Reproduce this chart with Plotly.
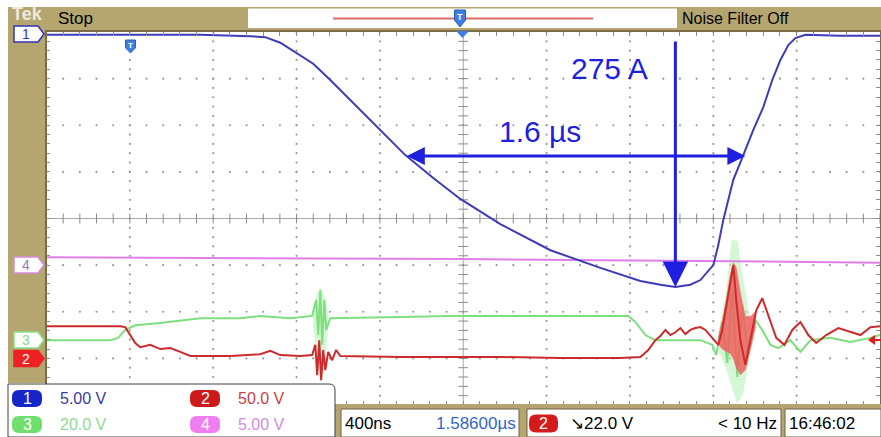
import numpy as np
import plotly.graph_objects as go

W, H = 881, 437
# graticule position in the screenshot (pixels)
GX0, GX1, GY0, GY1 = 46.5, 880.0, 32.0, 405.0

# ---------------- data (time in microseconds, amplitude in divisions) -------------
time_per_div_us = 0.4
t_range = [-2.0, 2.0]
v_range = [-4.0, 4.0]

# CH1 (blue) - current probe
ch1_t = [-2.0, -1.262, -1.022, -0.950, -0.878, -0.797, -0.720, -0.638, -0.542, -0.446,
         -0.350, -0.278, -0.144, -0.014, 0.178, 0.418, 0.658, 0.850, 0.946, 1.018,
         1.090, 1.138, 1.200, 1.224, 1.248, 1.296, 1.344, 1.392, 1.440, 1.483,
         1.522, 1.560, 1.594, 1.642, 1.810, 2.0]
ch1_v = [3.94, 3.94, 3.91, 3.89, 3.77, 3.53, 3.32, 2.97, 2.54, 2.11,
         1.66, 1.36, 0.87, 0.42, -0.12, -0.68, -1.06, -1.34, -1.42, -1.47,
         -1.42, -1.32, -1.00, -0.57, -0.03, 0.83, 1.36, 1.90, 2.39, 2.97,
         3.40, 3.72, 3.87, 3.94, 3.92, 3.92]

# CH4 (magenta)
ch4_t = [-2.0, -0.014, 1.138, 2.0]
ch4_v = [-0.83, -0.87, -0.91, -0.95]

# CH3 (green)
ch3_t = [-2.0, -1.694, -1.656, -1.622, -1.574, -1.454, -1.262, -1.070, -0.974, -0.830,
         -0.725, -0.706, -0.696, -0.686, -0.677, -0.667, -0.658, -0.638, -0.302, -0.062,
         0.178, 0.466, 0.792, 0.826, 0.874, 0.922, 1.138, 1.195, 1.214, 1.243,
         1.267, 1.291, 1.315, 1.339, 1.368, 1.402, 1.435, 1.474, 1.512, 1.570,
         1.618, 1.666, 1.762, 1.858, 1.954, 2.0]
ch3_v = [-2.61, -2.61, -2.56, -2.39, -2.29, -2.24, -2.14, -2.14, -2.09, -2.14,
         -2.09, -1.75, -2.50, -1.54, -2.71, -1.75, -2.39, -2.14, -2.11, -2.09,
         -2.09, -2.09, -2.09, -2.22, -2.50, -2.61, -2.61, -2.71, -2.93, -2.20,
         -3.10, -1.50, -3.40, -1.90, -2.90, -2.18, -2.39, -2.71, -2.78, -2.61,
         -2.86, -2.61, -2.56, -2.65, -2.56, -2.50]

# CH2 (red)
ch2_t = [-2.0, -1.646, -1.622, -1.598, -1.574, -1.550, -1.502, -1.454, -1.406, -1.358,
         -1.310, -1.262, -1.118, -0.974, -0.926, -0.878, -0.782, -0.725, -0.710, -0.701,
         -0.691, -0.682, -0.672, -0.662, -0.648, -0.629, -0.610, -0.590, -0.302, 0.178,
         0.466, 0.754, 0.850, 0.888, 0.922, 0.946, 0.970, 0.994, 1.018, 1.042,
         1.066, 1.090, 1.114, 1.138, 1.162, 1.195, 1.224, 1.243, 1.262, 1.282,
         1.296, 1.310, 1.330, 1.354, 1.378, 1.406, 1.435, 1.464, 1.502, 1.541,
         1.579, 1.618, 1.656, 1.694, 1.742, 1.800, 1.858, 1.906, 1.954, 2.0]
ch2_v = [-2.31, -2.31, -2.33, -2.50, -2.67, -2.76, -2.71, -2.80, -2.78, -2.86,
         -2.95, -2.95, -2.95, -2.91, -2.84, -2.93, -2.95, -2.93, -2.71, -3.36,
         -2.61, -3.47, -2.82, -3.25, -2.86, -3.04, -2.82, -2.95, -2.97, -2.97,
         -2.99, -2.99, -2.97, -2.82, -2.61, -2.52, -2.39, -2.50, -2.44, -2.35,
         -2.48, -2.39, -2.35, -2.33, -2.39, -2.56, -2.71, -2.39, -1.86, -1.32,
         -1.00, -1.75, -2.61, -3.14, -2.61, -1.97, -1.71, -2.07, -2.56, -2.71,
         -2.39, -2.22, -2.50, -2.67, -2.50, -2.35, -2.44, -2.50, -2.33, -2.31]

# persistence (intensity graded) envelopes of the ringing bursts
red_burst_t = [1.224, 1.243, 1.262, 1.282, 1.296, 1.310, 1.330, 1.354, 1.378, 1.402,
               1.402, 1.378, 1.354, 1.330, 1.310, 1.296, 1.282, 1.262, 1.243, 1.224]
red_burst_v = [-2.55, -2.2, -1.75, -1.2, -0.95, -1.05, -1.6, -2.1, -2.1, -2.0,
               -2.35, -2.8, -3.25, -3.35, -3.2, -3.0, -2.9, -2.85, -2.8, -2.7]
green_burst_t = [1.224, 1.262, 1.291, 1.315, 1.339, 1.368, 1.392,
                 1.392, 1.368, 1.339, 1.315, 1.291, 1.262, 1.224]
green_burst_v = [-2.5, -1.6, -0.45, -0.5, -1.2, -2.0, -2.3,
                 -2.6, -3.1, -3.8, -3.95, -3.6, -3.2, -2.8]
green_burst2_t = [-0.720, -0.700, -0.685, -0.665, -0.650, -0.650, -0.665, -0.685, -0.700, -0.720]
green_burst2_v = [-2.1, -1.6, -1.5, -1.7, -2.0, -2.3, -3.2, -3.5, -3.0, -2.2]

# measurement annotations
pulse_start_t, pulse_end_t, pulse_level_v = -0.278, 1.354, 1.34
peak_t, peak_top_v, peak_v = 1.018, 3.83, -1.47
peak_label = "275 A"
width_label = "1.6 µs"

# readouts
scale_labels = [("1", "5.00 V"), ("2", "50.0 V"), ("3", "20.0 V"), ("4", "5.00 V")]
timebase_label = "400ns"
position_label = "1.58600µs"
trigger_label = "↘22.0 V"
freq_label = "< 10 Hz"
clock_label = "16:46:02"

# ---------------- styling ----------------
OLIVE = "#b5a66f"
BLUE = "#3c3cb8"
ANN = "#1f1fe0"
PINK = "#e07ee8"
GREEN = "#7ddf7d"
RED = "#cc2b2b"
FONT = "Liberation Sans, Arial, sans-serif"
FS = 16


def px(x):
    return x / W


def py(y):
    return 1 - y / H


fig = go.Figure()

# graticule dots
div_t = [d * time_per_div_us for d in range(-4, 5) if d != 0]
dot_v = np.arange(-4, 4.001, 0.2)
gx, gy = [], []
for t in div_t:
    gx += [t] * len(dot_v)
    gy += list(dot_v)
dot_t = np.arange(-2, 2.0001, time_per_div_us / 5)
for v in [-3, -2, -1, 1, 2, 3]:
    gx += list(dot_t)
    gy += [v] * len(dot_t)
fig.add_trace(go.Scatter(x=gx, y=gy, mode="markers", hoverinfo="skip",
                         marker=dict(size=2.2, color="#9a9a9a")))
# center axes ticks
fig.add_trace(go.Scatter(x=list(dot_t), y=[0] * len(dot_t), mode="markers", hoverinfo="skip",
                         marker=dict(symbol="line-ns", size=7, line=dict(width=1, color="#8a8a8a"))))
fig.add_trace(go.Scatter(x=[0] * len(dot_v), y=list(dot_v), mode="markers", hoverinfo="skip",
                         marker=dict(symbol="line-ew", size=7, line=dict(width=1, color="#8a8a8a"))))

# bursts
for bt, bv in [(green_burst_t, green_burst_v), (green_burst2_t, green_burst2_v)]:
    fig.add_trace(go.Scatter(x=bt, y=bv, fill="toself", mode="lines",
                             line=dict(width=0.5, color="#c4f2c4"), fillcolor="rgba(180,240,180,0.55)",
                             hoverinfo="skip"))

fig.add_trace(go.Scatter(x=ch4_t, y=ch4_v, mode="lines", line=dict(color=PINK, width=2)))
fig.add_trace(go.Scatter(x=ch3_t, y=ch3_v, mode="lines", line=dict(color=GREEN, width=2)))
fig.add_trace(go.Scatter(x=red_burst_t, y=red_burst_v, fill="toself", mode="lines",
                         line=dict(width=0.5, color="#f06a6a"), fillcolor="rgba(240,95,95,0.85)",
                         hoverinfo="skip"))
fig.add_trace(go.Scatter(x=ch2_t, y=ch2_v, mode="lines", line=dict(color=RED, width=2)))
fig.add_trace(go.Scatter(x=ch1_t, y=ch1_v, mode="lines", line=dict(color=BLUE, width=2)))

shapes = []
ann = []


def text(x, y, s, size=FS, color="black", xanchor="left", family=FONT):
    ann.append(dict(x=px(x), y=py(y), xref="paper", yref="paper", text=s, showarrow=False,
                    xanchor=xanchor, yanchor="middle", font=dict(family=family, size=size, color=color)))


# center cross lines
shapes.append(dict(type="line", xref="x", yref="y", x0=t_range[0], x1=t_range[1], y0=0, y1=0,
                   line=dict(color="#a8a8a8", width=1), layer="below"))
shapes.append(dict(type="line", xref="x", yref="y", x0=0, x1=0, y0=v_range[0], y1=v_range[1],
                   line=dict(color="#a8a8a8", width=1), layer="below"))

# measurement arrows
ann.append(dict(x=peak_t, y=peak_v, ax=peak_t, ay=peak_top_v, xref="x", yref="y", axref="x", ayref="y",
                text="", showarrow=True, arrowhead=2, arrowsize=1.7, arrowwidth=3, arrowcolor=ANN))
ann.append(dict(x=pulse_end_t, y=pulse_level_v, ax=pulse_start_t, ay=pulse_level_v, xref="x", yref="y",
                axref="x", ayref="y", text="", showarrow=True, arrowhead=2, startarrowhead=2,
                arrowside="end+start", arrowsize=1.2, startarrowsize=1.2, arrowwidth=3, arrowcolor=ANN))
ann.append(dict(x=0.70, y=3.22, xref="x", yref="y", text=peak_label, showarrow=False,
                xanchor="center", yanchor="middle",
                font=dict(family="Liberation Sans, Arial, sans-serif", size=30, color=ANN)))
ann.append(dict(x=0.37, y=1.86, xref="x", yref="y", text=width_label, showarrow=False,
                xanchor="center", yanchor="middle",
                font=dict(family="Liberation Sans, Arial, sans-serif", size=30, color=ANN)))

# ---- frame: olive bars
shapes.append(dict(type="rect", xref="paper", yref="paper", x0=px(8), x1=px(45.5), y0=py(383), y1=py(7),
                   fillcolor=OLIVE, line=dict(width=0), layer="below"))
shapes.append(dict(type="rect", xref="paper", yref="paper", x0=px(8), x1=px(881), y0=py(31), y1=py(7),
                   fillcolor=OLIVE, line=dict(width=0), layer="below"))
# top readout box
shapes.append(dict(type="rect", xref="paper", yref="paper", x0=px(248), x1=px(677), y0=py(28), y1=py(8.5),
                   fillcolor="white", line=dict(width=0)))
shapes.append(dict(type="line", xref="paper", yref="paper", x0=px(333), x1=px(593), y0=py(18.5), y1=py(18.5),
                   line=dict(color="#e06a6a", width=2)))


def shield(cx, top, w=11, h=15, color="#3d7fe0"):
    l, r = cx - w / 2, cx + w / 2
    b = top + h
    return dict(type="path", xref="paper", yref="paper",
                path=f"M {px(l)},{py(top)} L {px(r)},{py(top)} L {px(r)},{py(top + h * 0.6)} "
                     f"L {px(cx)},{py(b)} L {px(l)},{py(top + h * 0.6)} Z",
                fillcolor=color, line=dict(color="#2a5fb8", width=1))


shapes.append(shield(460, 10, 11, 17))
text(460, 16.5, "<b>T</b>", size=9, color="white", xanchor="center")
shapes.append(shield(130.5, 40, 10, 13))
text(130.5, 45, "<b>T</b>", size=8, color="white", xanchor="center")
# trigger position marker on top border
shapes.append(dict(type="path", xref="paper", yref="paper",
                   path=f"M {px(456)},{py(31)} L {px(469)},{py(31)} L {px(462.5)},{py(38)} Z",
                   fillcolor="#3d7fe0", line=dict(width=0)))

text(10, 14, "<b>Tek</b>", size=18, color="#efe8dc")
text(56, 18.5, "Stop", size=FS + 1)
text(680, 18.5, "Noise Filter Off", size=FS)


# channel ground markers (left side)
def badge(y, label, fill, edge, txt):
    top, bot = y - 8, y + 8
    l, r = 14, 44
    shapes.append(dict(type="path", xref="paper", yref="paper",
                       path=f"M {px(l)},{py(top)} L {px(r - 6)},{py(top)} L {px(r)},{py(y)} "
                            f"L {px(r - 6)},{py(bot)} L {px(l)},{py(bot)} Z",
                       fillcolor=fill, line=dict(color=edge, width=1.5)))
    text(l + 12, y, label, size=14, color=txt, xanchor="center")


badge(34, "1", "white", "#3434b0", "#3434b0")
badge(265, "4", "white", "#d68ae0", "#9a78c0")
badge(340, "3", "white", "#88e088", "#88e088")
badge(358.5, "2", "#ee2222", "#ee2222", "white")
# trigger level marker on right
shapes.append(dict(type="path", xref="paper", yref="paper",
                   path=f"M {px(868)},{py(340)} L {px(875)},{py(335)} L {px(875)},{py(345)} Z",
                   fillcolor="#e02020", line=dict(width=0)))
shapes.append(dict(type="line", xref="paper", yref="paper", x0=px(874), x1=px(881), y0=py(340), y1=py(340),
                   line=dict(color="#e02020", width=2)))

# ---- bottom readouts
shapes.append(dict(type="rect", xref="paper", yref="paper", x0=px(335), x1=px(881), y0=py(437), y1=py(404),
                   fillcolor=OLIVE, line=dict(width=0)))
for a, b in [(341, 519), (527, 781), (785, 881)]:
    shapes.append(dict(type="rect", xref="paper", yref="paper", x0=px(a), x1=px(b), y0=py(437), y1=py(409),
                       fillcolor="white", line=dict(color="#6d6247", width=1)))


def rrect(l, t, r, b, rad):
    return (f"M {px(l + rad)},{py(t)} L {px(r - rad)},{py(t)} Q {px(r)},{py(t)} {px(r)},{py(t + rad)} "
            f"L {px(r)},{py(b - rad)} Q {px(r)},{py(b)} {px(r - rad)},{py(b)} "
            f"L {px(l + rad)},{py(b)} Q {px(l)},{py(b)} {px(l)},{py(b - rad)} "
            f"L {px(l)},{py(t + rad)} Q {px(l)},{py(t)} {px(l + rad)},{py(t)} Z")


# legend / scale box
shapes.append(dict(type="path", xref="paper", yref="paper",
                   path=(f"M {px(8)},{py(437)} L {px(8)},{py(384)} L {px(329)},{py(384)} "
                         f"Q {px(335)},{py(384)} {px(335)},{py(390)} L {px(335)},{py(437)} Z"),
                   fillcolor="white", line=dict(color="#404040", width=1)))
leg_pos = [(12, 398.5), (190, 398.5), (12, 424.5), (190, 424.5)]
leg_fill = ["#1626c8", "#cc1a1a", "#70df70", "#f07ef0"]
leg_txt = ["#3a3a9c", "#c84040", "#92d892", "#d48ae4"]
for (lab, val), (x0, yc), fc, tc in zip(scale_labels, leg_pos, leg_fill, leg_txt):
    shapes.append(dict(type="path", xref="paper", yref="paper", path=rrect(x0, yc - 8.5, x0 + 30, yc + 8.5, 7),
                       fillcolor=fc, line=dict(width=0)))
    text(x0 + 15, yc, lab, size=FS, color="white", xanchor="center")
    text(x0 + 46, yc, val, size=FS, color=tc)

text(343, 423.5, timebase_label, size=FS + 1)
text(518, 423.5, position_label, size=FS + 1, color="#3466c8", xanchor="right")
shapes.append(dict(type="path", xref="paper", yref="paper", path=rrect(529, 414.5, 558, 432.5, 7),
                   fillcolor="#d41a1a", line=dict(width=0)))
text(543.5, 423.5, "2", size=FS, color="white", xanchor="center")
text(568, 423.5, trigger_label, size=FS + 1)
text(779, 423.5, freq_label, size=FS + 1, xanchor="right")
text(787, 423.5, clock_label, size=FS + 1)

fig.update_layout(
    width=W, height=H, autosize=False,
    margin=dict(l=0, r=0, t=0, b=0, pad=0),
    paper_bgcolor="white", plot_bgcolor="white",
    showlegend=False,
    shapes=shapes, annotations=ann,
    xaxis=dict(domain=[GX0 / W, GX1 / W], range=t_range, showgrid=False, zeroline=False,
               showticklabels=False, ticks="inside", ticklen=4, tickcolor="#8c8c8c",
               tick0=t_range[0], dtick=time_per_div_us / 5, showline=True, linecolor="#7a6d45",
               linewidth=1.5, mirror="ticks", fixedrange=True),
    yaxis=dict(domain=[1 - GY1 / H, 1 - GY0 / H], range=v_range, showgrid=False, zeroline=False,
               showticklabels=False, ticks="inside", ticklen=4, tickcolor="#8c8c8c",
               tick0=v_range[0], dtick=0.2, showline=True, linecolor="#7a6d45",
               linewidth=1.5, mirror="ticks", fixedrange=True),
)

fig.write_html("out.html", config={"displayModeBar": False},
               post_script="document.body.style.margin='0';document.body.style.padding='0';")
